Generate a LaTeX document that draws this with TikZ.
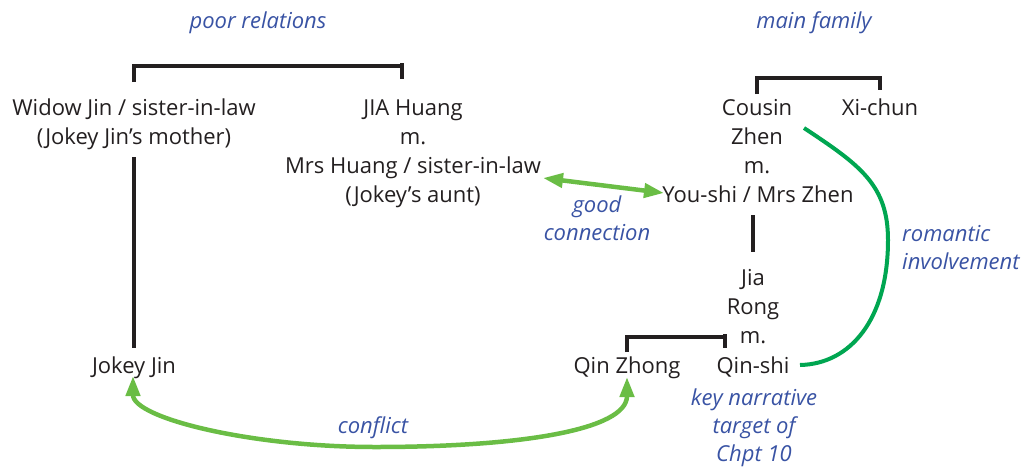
\documentclass[tikz,border=0pt]{standalone}
\usepackage{fontspec}
\setmainfont{Open Sans}
\usetikzlibrary{arrows.meta}
\definecolor{txt}{HTML}{231F20}
\definecolor{lblue}{HTML}{3953A4}
\definecolor{lgreen}{HTML}{6ABD45}
\definecolor{dgreen}{HTML}{00A651}
\begin{document}
\begin{tikzpicture}[x=1pt,y=-1pt,
 person/.style={anchor=base, inner sep=0pt, text=txt, font=\fontsize{22}{29}\selectfont},
 note/.style={anchor=base, inner sep=0pt, text=lblue, font=\fontsize{22}{28}\selectfont\itshape},
 tree/.style={line width=4pt, draw=txt},
 linkarrow/.style={line width=4.5pt, draw=lgreen, {Triangle[length=20pt,width=14pt]}-{Triangle[length=20pt,width=14pt]}},
 romance/.style={line width=4pt, draw=dgreen}
]
\useasboundingbox (0,0) rectangle (1026,467);
% labels
\node[note] (poor) at (258,28) {poor relations};
\node[note] (mainfam) at (814,28) {main family};
% people
\node[person] (widow1) at (134,115) {Widow Jin / sister-in-law};
\node[person] (widow2) at (134,144) {(Jokey Jin’s mother)};
\node[person] (jia1) at (413,115) {JIA Huang};
\node[person] (jiam) at (413,144) {m.};
\node[person] (mrshuang) at (413,173) {Mrs Huang / sister-in-law};
\node[person] (aunt) at (413,202) {(Jokey’s aunt)};
\node[person] (cousin) at (757,115) {Cousin};
\node[person] (zhen) at (757,144) {Zhen};
\node[person] (zhenm) at (757,173) {m.};
\node[person] (youshi) at (758,202) {You-shi / Mrs Zhen};
\node[person] (xichun) at (880,115) {Xi-chun};
\node[person] (jia) at (753,285) {Jia};
\node[person] (rong) at (753,314) {Rong};
\node[person] (rongm) at (753,343) {m.};
\node[person] (qinshi) at (753,373) {Qin-shi};
\node[person] (qinzhong) at (627,373) {Qin Zhong};
\node[person] (jokey) at (134,373) {Jokey Jin};
% notes
\node[note] (good) at (597,212) {good};
\node[note] (connection) at (597,240) {connection};
\node[note] (conflict) at (373,433) {conflict};
\node[note, anchor=base west] (romantic) at (902,241) {romantic};
\node[note, anchor=base west] (involvement) at (902,269) {involvement};
\node[note] (key1) at (754,405) {key narrative};
\node[note] (key2) at (754,433) {target of};
\node[note] (key3) at (754,461) {Chpt 10};
% family lines
\draw[tree] ([shift={(0,-33)}]widow1.base) -- ([shift={(0,-49)}]widow1.base) -- ([shift={(-11,-49)}]jia1.base);
\draw[tree] ([shift={(-11,-52)}]jia1.base) -- ([shift={(-11,-36)}]jia1.base);
\draw[tree] ([shift={(0,13)}]widow2.base) -- ([shift={(0,-25)}]jokey.base);
\draw[tree] ([shift={(0,-21)}]cousin.base) -- ([shift={(0,-37)}]cousin.base) -- ([shift={(0,-37)}]xichun.base);
\draw[tree] ([shift={(0,-39)}]xichun.base) -- ([shift={(0,-25)}]xichun.base);
\draw[tree] ([shift={(0,-70)}]jia.base) -- ([shift={(0,-33)}]jia.base);
\draw[tree] ([shift={(0,-21)}]qinzhong.base) -- ([shift={(0,-36)}]qinzhong.base) -- ([shift={(-28,-36)}]qinshi.base);
\draw[tree] ([shift={(-28,-39)}]qinshi.base) -- ([shift={(-28,-25)}]qinshi.base);
% relations
\draw[linkarrow] ([shift={(130,5)}]mrshuang.base) -- ([shift={(-94,-9)}]youshi.base);
\draw[linkarrow] ([shift={(-1,3)}]jokey.base) .. controls (133,418) and (250,447) .. (375,447) .. controls (520,447) and (627,430) .. ([shift={(0,4)}]qinzhong.base);
\draw[romance] ([shift={(47,-16)}]zhen.base) .. controls (860,165) and (888,185) .. (888,240) .. controls (888,320) and (850,364) .. ([shift={(47,-8)}]qinshi.base);
\end{tikzpicture}
\end{document}
